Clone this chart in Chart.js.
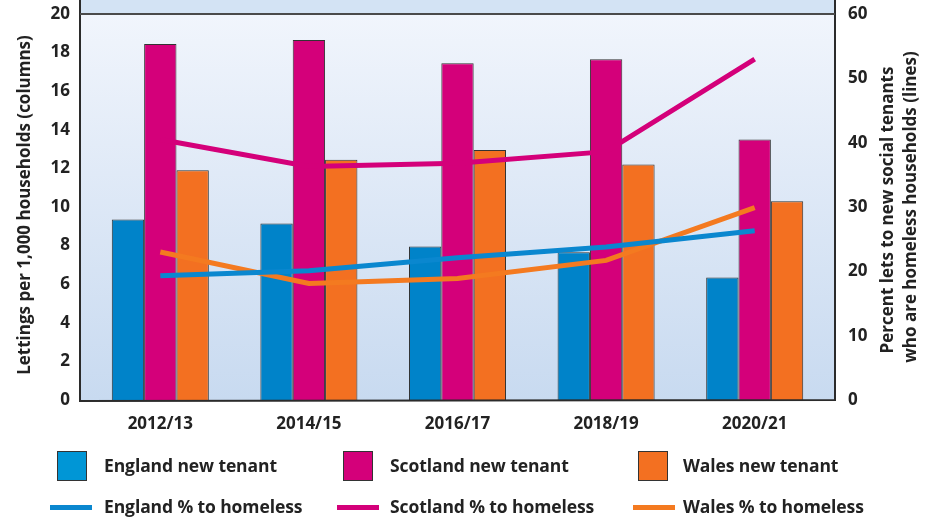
<!DOCTYPE html>
<html>
<head>
<meta charset="utf-8">
<script src="https://cdn.jsdelivr.net/npm/chart.js@4/dist/chart.umd.min.js"></script>
<style>
  html, body { margin: 0; padding: 0; background: #ffffff; }
  #wrap { position: relative; width: 929px; height: 523px; overflow: hidden; }
  canvas { position: absolute; left: 0; top: 0; }
  .lg { position: absolute; font-family: 'Open Sans', sans-serif; font-weight: 700; font-size: 17.5px; color: #222; white-space: nowrap; line-height: 22px; letter-spacing: -0.1px; }
  .box { position: absolute; width: 28px; height: 28px; border: 1.5px solid #333; box-sizing: content-box; }
  .ln { position: absolute; height: 5px; width: 42px; }
</style>
</head>
<body>
<div id="wrap">
  <canvas id="c" width="929" height="523"></canvas>
  <div id="legend"></div>
</div>
<script>
// ---- data ----
const categories = ['2012/13', '2014/15', '2016/17', '2018/19', '2020/21'];
const englandTenant  = [9.35, 9.15, 7.95, 7.65, 6.35];
const scotlandTenant = [18.45, 18.65, 17.45, 17.65, 13.5];
const walesTenant    = [11.9, 12.45, 12.95, 12.2, 10.3];
const englandHomeless  = [19.3, 20.1, 22.1, 23.8, 26.3];
const scotlandHomeless = [40.5, 36.3, 36.8, 38.6, 53.0];
const walesHomeless    = [23.0, 18.1, 18.9, 21.7, 29.9];
const leftTicks  = [0, 2, 4, 6, 8, 10, 12, 14, 16, 18, 20];
const rightTicks = [0, 10, 20, 30, 40, 50, 60];
const leftTitle = 'Lettings per 1,000 households (columns)';
const rightTitle = ['Percent lets to new social tenants', 'who are homeless households (lines)'];

const blue = '#0083c9', pink = '#d4007a', orange = '#f37021';
const legendBlue = '#0096d6';

const FONT = "'Open Sans', sans-serif";

const frame = { left: 80, right: 835, top: 14, bottom: 400 };

const bgPlugin = {
  id: 'bg',
  beforeDraw(chart) {
    const ctx = chart.ctx;
    ctx.save();
    ctx.fillStyle = '#d3e3f4';
    ctx.fillRect(frame.left, 0, frame.right - frame.left, frame.top);
    const g = ctx.createLinearGradient(0, frame.top, 0, frame.bottom);
    g.addColorStop(0, '#f1f5fc');
    g.addColorStop(1, '#c8daf0');
    ctx.fillStyle = g;
    ctx.fillRect(frame.left, frame.top, frame.right - frame.left, frame.bottom - frame.top);
    ctx.restore();
  },
  afterDraw(chart) {
    const ctx = chart.ctx;
    ctx.save();
    ctx.strokeStyle = '#2b2b2b';
    ctx.lineWidth = 2;
    ctx.beginPath();
    ctx.moveTo(frame.left, 0); ctx.lineTo(frame.left, frame.bottom + 1);
    ctx.lineTo(frame.right + 1, frame.bottom);
    ctx.moveTo(frame.right, 0); ctx.lineTo(frame.right, frame.bottom);
    ctx.stroke();
    ctx.strokeStyle = '#4a4a4a';
    ctx.beginPath();
    ctx.moveTo(frame.left, frame.top); ctx.lineTo(frame.right, frame.top);
    ctx.stroke();
    ctx.fillStyle = '#222';
    ctx.font = "700 17px " + FONT;
    ctx.textAlign = 'center';
    ctx.textBaseline = 'middle';
    ctx.save();
    ctx.translate(25, 205);
    ctx.rotate(-Math.PI / 2);
    ctx.fillText(leftTitle, 0, 0);
    ctx.restore();
    ctx.save();
    ctx.translate(888, 210);
    ctx.rotate(-Math.PI / 2);
    ctx.fillText(rightTitle[0], 0, 0);
    ctx.restore();
    ctx.save();
    ctx.translate(911, 207);
    ctx.rotate(-Math.PI / 2);
    ctx.fillText(rightTitle[1], 0, 0);
    ctx.restore();
    ctx.restore();
  }
};

const barCommon = { borderColor: '#333333', borderWidth: 1, yAxisID: 'y', order: 2, categoryPercentage: 0.653, barPercentage: 1.0 };
const lineCommon = { type: 'line', yAxisID: 'y2', order: 1, borderWidth: 5, pointRadius: 0, tension: 0, fill: false };

const datasets = [
  Object.assign({ type: 'bar', label: 'England new tenant', data: englandTenant, backgroundColor: blue, legendColor: legendBlue }, barCommon),
  Object.assign({ type: 'bar', label: 'Scotland new tenant', data: scotlandTenant, backgroundColor: pink, legendColor: pink }, barCommon),
  Object.assign({ type: 'bar', label: 'Wales new tenant', data: walesTenant, backgroundColor: orange, legendColor: orange }, barCommon),
  Object.assign({ label: 'England % to homeless', data: englandHomeless, borderColor: '#0a87cf', backgroundColor: '#0a87cf' }, lineCommon),
  Object.assign({ label: 'Scotland % to homeless', data: scotlandHomeless, borderColor: pink, backgroundColor: pink }, lineCommon),
  Object.assign({ label: 'Wales % to homeless', data: walesHomeless, borderColor: '#f47a20', backgroundColor: '#f47a20' }, lineCommon)
];

function zeroPad(s) { s.paddingTop = 0; s.paddingBottom = 0; s.paddingLeft = 0; s.paddingRight = 0; }

const chart = new Chart(document.getElementById('c'), {
  data: { labels: categories, datasets },
  options: {
    responsive: false,
    animation: false,
    devicePixelRatio: 1,
    layout: { padding: { top: 14, left: 0, right: 0, bottom: 0 } },
    plugins: { legend: { display: false }, tooltip: { enabled: false } },
    scales: {
      x: {
        type: 'category', offset: true,
        grid: { display: false, drawTicks: false }, border: { display: false },
        ticks: { color: '#222', font: { family: FONT, weight: '700', size: 17 }, padding: 14, maxRotation: 0 },
        afterFit(s) { s.height = 123; zeroPad(s); }
      },
      y: {
        position: 'left', min: 0, max: 20,
        grid: { display: false, drawTicks: false }, border: { display: false },
        afterBuildTicks(s) { s.ticks = leftTicks.map(v => ({ value: v })); },
        ticks: { color: '#222', font: { family: FONT, weight: '700', size: 17 }, padding: 16 },
        afterFit(s) { s.width = 86; zeroPad(s); }
      },
      y2: {
        position: 'right', min: 0, max: 60,
        grid: { display: false, drawTicks: false }, border: { display: false },
        afterBuildTicks(s) { s.ticks = rightTicks.map(v => ({ value: v })); },
        ticks: { color: '#222', font: { family: FONT, weight: '700', size: 17 }, padding: 19 },
        afterFit(s) { s.width = 100; zeroPad(s); }
      }
    }
  },
  plugins: [bgPlugin]
});

// ---- HTML legend built from the datasets ----
const legendEl = document.getElementById('legend');
const colX = [{ mark: 57, line: 50, text: 104 }, { mark: 343, line: 337, text: 390 }, { mark: 638, line: 633, text: 683 }];
datasets.forEach((ds, i) => {
  const col = colX[i % 3];
  const isBar = ds.type === 'bar';
  const cy = isBar ? 466 : 507;
  const m = document.createElement('div');
  if (isBar) {
    m.className = 'box';
    m.style.left = col.mark + 'px';
    m.style.top = (cy - 15) + 'px';
    m.style.background = ds.legendColor;
  } else {
    m.className = 'ln';
    m.style.left = col.line + 'px';
    m.style.top = (cy - 2.5) + 'px';
    m.style.background = ds.borderColor;
  }
  legendEl.appendChild(m);
  const t = document.createElement('div');
  t.className = 'lg';
  t.textContent = ds.label;
  t.style.left = col.text + 'px';
  t.style.top = (cy - 12) + 'px';
  legendEl.appendChild(t);
});
</script>
</body>
</html>
